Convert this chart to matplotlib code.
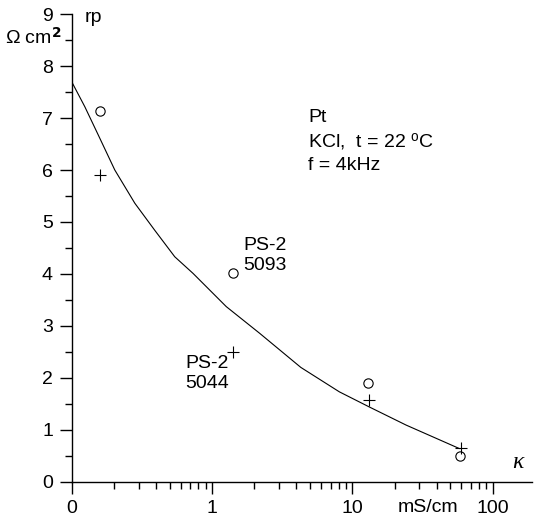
import numpy as np
import matplotlib
matplotlib.use("Agg")
import matplotlib.pyplot as plt
import matplotlib.ticker as mticker

plt.rcParams["font.family"] = ["Liberation Sans", "DejaVu Sans"]
plt.rcParams["mathtext.fontset"] = "custom"
plt.rcParams["mathtext.rm"] = "Liberation Sans"
plt.rcParams["mathtext.it"] = "Liberation Serif:italic"

# measured points (kappa in mS/cm, rp in Ohm cm^2)
kappa_5093 = [0.159, 1.41, 12.9, 58.4]
rp_5093 = [7.13, 4.01, 1.90, 0.49]
kappa_5044 = [0.159, 1.41, 13.1, 59.5]
rp_5044 = [5.90, 2.50, 1.57, 0.64]

# fitted curve
curve_kappa = [0.1, 0.124, 0.155, 0.203, 0.282, 0.391, 0.543, 0.733, 1.265,
               2.18, 4.3, 8.09, 13.2, 24.2, 57.8]
curve_rp = [7.70, 7.22, 6.67, 6.00, 5.36, 4.84, 4.33, 4.01, 3.37,
            2.86, 2.20, 1.73, 1.44, 1.09, 0.64]

x_ticks = [0.1, 1, 10, 100]
x_tick_labels = ["0", "1", "10", "100"]

FS = 14

fig = plt.figure(figsize=(5.47, 5.24), dpi=100)
ax = fig.add_axes([0.131, 0.0807, 0.841, 0.8923])

ax.plot(curve_kappa, curve_rp, color="black", lw=0.8)
ax.plot(kappa_5093, rp_5093, "o", mfc="none", mec="black", ms=6.7, mew=0.8)
ax.plot(kappa_5044, rp_5044, "+", color="black", ms=9, mew=0.8)

ax.set_xscale("log")
ax.set_xlim(0.1, 190)
ax.set_ylim(0, 9)

ax.spines["top"].set_visible(False)
ax.spines["right"].set_visible(False)
ax.spines["left"].set_linewidth(1.0)
ax.spines["bottom"].set_linewidth(1.0)

minor_x = [m * 10.0 ** e for e in (-1, 0, 1, 2) for m in range(2, 10) if m * 10.0 ** e < 190]
ax.set_xticks(x_ticks, x_tick_labels)
ax.set_xticks(minor_x, minor=True)
ax.xaxis.set_minor_formatter(mticker.NullFormatter())
ax.set_yticks(range(0, 10))
ax.yaxis.set_minor_locator(mticker.MultipleLocator(0.5))

ax.tick_params(axis="both", which="major", direction="out", length=8.5, width=1.0,
               color="black", labelsize=FS, pad=5)
ax.tick_params(axis="both", which="minor", direction="out", length=5, width=1.0,
               color="black")

# axis titles
fig.text(93 / 547, 1 - 18 / 524, "rp", fontsize=FS, ha="center", va="center")
fig.text(5 / 547, 1 - 38 / 524, r"$\Omega$ cm$^{\mathbf{2}}$", fontsize=FS, ha="left", va="center")
fig.text(428 / 547, 1 - 508 / 524, "mS/cm", fontsize=FS, ha="center", va="center")
fig.text(518 / 547, 1 - 462 / 524, "κ", fontsize=FS + 3, ha="center", va="center",
         family="Liberation Serif", style="italic")

# annotations
fig.text(308 / 547, 1 - 118 / 524, "Pt", fontsize=FS, ha="left", va="center")
fig.text(308 / 547, 1 - 142 / 524, r"KCl,  t = 22 $^{\rm o}$C", fontsize=FS, ha="left", va="center")
fig.text(308 / 547, 1 - 165 / 524, "f = 4kHz", fontsize=FS, ha="left", va="center")

fig.text(243 / 547, 1 - 245 / 524, "PS-2", fontsize=FS, ha="left", va="center")
fig.text(243 / 547, 1 - 266 / 524, "5093", fontsize=FS, ha="left", va="center")
fig.text(185 / 547, 1 - 363 / 524, "PS-2", fontsize=FS, ha="left", va="center")
fig.text(185 / 547, 1 - 384 / 524, "5044", fontsize=FS, ha="left", va="center")

fig.savefig("out.png", dpi=100)
